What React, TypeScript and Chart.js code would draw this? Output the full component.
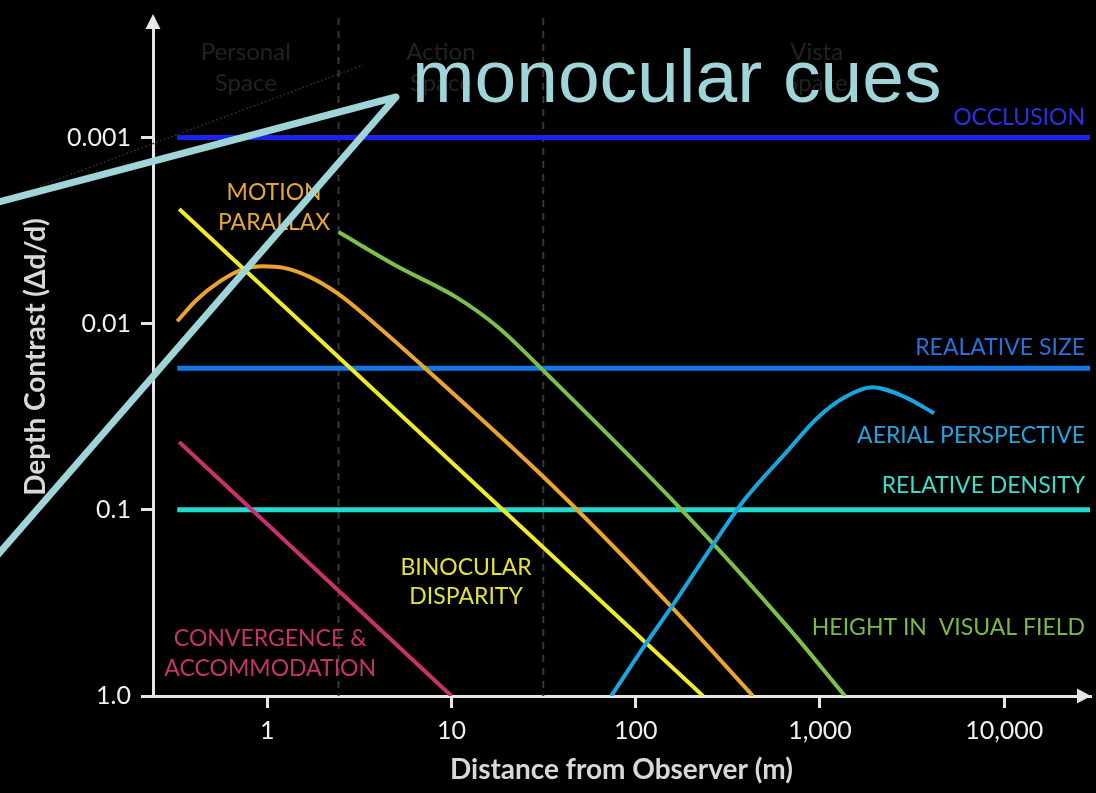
import { useEffect, useRef } from "react";
import { Chart, registerables } from "chart.js";

Chart.register(...registerables);

// ---------- axis data ----------
const xTickValues = [1, 10, 100, 1000, 10000];
const xTickLabels = ["1", "10", "100", "1,000", "10,000"];
const yTickValues = [0.001, 0.01, 0.1, 1];
const yTickLabels = ["0.001", "0.01", "0.1", "1.0"];
const xRange = [0.24, 29200];
const yRange = [0.000228, 1];

// ---------- series data ----------
const binocularX = [0.333, 232];
const binocularY = [0.00242, 1.0];

const motionX = [0.325, 0.412, 0.556, 0.741, 0.939, 1.25, 1.71, 2.4, 3.86, 7.2, 34.3, 150, 433];
const motionY = [0.0097, 0.00748, 0.00591, 0.00509, 0.00491, 0.00503, 0.00562, 0.00686, 0.01006, 0.01735, 0.072, 0.318, 1.0];

const heightX = [2.44, 5.1, 10.6, 17.9, 34.3, 178.6, 671, 1368];
const heightY = [0.00322, 0.00493, 0.0072, 0.01044, 0.0194, 0.1006, 0.428, 1.0];

const convergenceX = [0.333, 10];
const convergenceY = [0.0432, 1.0];

const aerialX = [73.6, 113.9, 151.8, 266, 387, 671, 964, 1368, 1917, 2895, 4160];
const aerialY = [1.0, 0.522, 0.347, 0.1514, 0.0889, 0.0479, 0.0322, 0.0248, 0.02195, 0.0248, 0.0303];

const constantCueStartX = 0.325;
const occlusionY = 0.001;
const relativeSizeY = 0.01735;
const relativeDensityY = 0.1;

const zoneBoundaries = [2.44, 31.5];
const zoneNames = [
  ["Personal", "Space"],
  ["Action", "Space"],
  ["Vista", "Space"],
];

// ---------- labels (text + anchor in data space) ----------
const cueLabels = [
  { lines: ["OCCLUSION"], x: 27440, y: 0.000786, align: "right", color: "#2a30e6" },
  { lines: ["REALATIVE SIZE"], x: 27440, y: 0.01337, align: "right", color: "#2a70da" },
  { lines: ["AERIAL PERSPECTIVE"], x: 27440, y: 0.03977, align: "right", color: "#28a2dc" },
  { lines: ["RELATIVE DENSITY"], x: 27440, y: 0.07383, align: "right", color: "#3ddccb" },
  { lines: ["HEIGHT IN  VISUAL FIELD"], x: 27440, y: 0.4282, align: "right", color: "#79b94a" },
  { lines: ["BINOCULAR", "DISPARITY"], x: 12.0, y: 0.2438, align: "center", color: "#e2e23a" },
  { lines: ["MOTION", "PARALLAX"], x: 1.09, y: 0.002378, align: "center", color: "#e6a63a" },
  { lines: ["CONVERGENCE &", "ACCOMMODATION"], x: 1.038, y: 0.5908, align: "center", color: "#c5336f" },
];

const overlayText = "monocular cues";

const FONT = "Lato, 'Noto Sans', sans-serif";
const AXIS_COLOR = "#e6e6e6";
const OVERLAY_COLOR = "#9fd4d9";

const pts = (xs: number[], ys: number[]) => xs.map((x, i) => ({ x, y: ys[i] }));

const curve = (label: string, xs: number[], ys: number[], color: string, smooth: boolean) => ({
  label,
  data: pts(xs, ys),
  borderColor: color,
  borderWidth: 4,
  pointRadius: 0,
  fill: false,
  tension: 0,
  cubicInterpolationMode: smooth ? "monotone" : "default",
});

const hline = (label: string, y: number, color: string) => ({
  label,
  data: pts([constantCueStartX, xRange[1]], [y, y]),
  borderColor: color,
  borderWidth: 5,
  pointRadius: 0,
  fill: false,
  tension: 0,
});

const vline = (label: string, x: number) => ({
  label,
  data: pts([x, x], [yRange[0], yRange[1]]),
  borderColor: "#383838",
  borderWidth: 2,
  borderDash: [7, 6],
  pointRadius: 0,
  fill: false,
  tension: 0,
});

const decorPlugin = {
  id: "decor",
  beforeDatasetsDraw(chart: any) {
    const { ctx, chartArea, scales } = chart;
    const xs = scales.x;
    const bounds = [chartArea.left, ...zoneBoundaries.map((b) => xs.getPixelForValue(b)), chartArea.right];
    ctx.save();
    ctx.fillStyle = "#222222";
    ctx.font = `24px ${FONT}`;
    ctx.textAlign = "center";
    ctx.textBaseline = "middle";
    zoneNames.forEach((lines, i) => {
      const cx = (bounds[i] + bounds[i + 1]) / 2;
      lines.forEach((t, j) => ctx.fillText(t, cx, chartArea.top + 34 + j * 31));
    });
    ctx.restore();
  },
  afterDatasetsDraw(chart: any) {
    const { ctx, scales } = chart;
    ctx.save();
    ctx.font = `23px ${FONT}`;
    ctx.textBaseline = "middle";
    cueLabels.forEach((l) => {
      const px = scales.x.getPixelForValue(l.x);
      const py = scales.y.getPixelForValue(l.y);
      ctx.fillStyle = l.color;
      ctx.textAlign = l.align;
      const n = l.lines.length;
      l.lines.forEach((t, j) => ctx.fillText(t, px, py + (j - (n - 1) / 2) * 29.5));
    });
    ctx.restore();
  },
  afterDraw(chart: any) {
    const { ctx, chartArea } = chart;
    ctx.save();
    // axis arrow heads
    ctx.fillStyle = AXIS_COLOR;
    ctx.beginPath();
    ctx.moveTo(chartArea.left, 14);
    ctx.lineTo(chartArea.left - 7.5, 29);
    ctx.lineTo(chartArea.left + 7.5, 29);
    ctx.closePath();
    ctx.fill();
    ctx.beginPath();
    ctx.moveTo(chartArea.right + 1, chartArea.bottom);
    ctx.lineTo(chartArea.right - 13, chartArea.bottom - 7.5);
    ctx.lineTo(chartArea.right - 13, chartArea.bottom + 7.5);
    ctx.closePath();
    ctx.fill();

    // faint dotted guide
    ctx.strokeStyle = "#2c2c2c";
    ctx.lineWidth = 1.5;
    ctx.setLineDash([2, 2]);
    ctx.beginPath();
    ctx.moveTo(40, 186);
    ctx.lineTo(363, 65);
    ctx.stroke();
    ctx.setLineDash([]);

    // overlay pointer + text
    ctx.strokeStyle = OVERLAY_COLOR;
    ctx.lineWidth = 7;
    ctx.lineJoin = "round";
    ctx.lineCap = "butt";
    ctx.beginPath();
    ctx.moveTo(-5, 203);
    ctx.lineTo(396, 97);
    ctx.lineTo(-5, 558);
    ctx.stroke();
    ctx.fillStyle = OVERLAY_COLOR;
    ctx.font = "75px 'Liberation Sans', Arial, sans-serif";
    ctx.textAlign = "left";
    ctx.textBaseline = "alphabetic";
    ctx.fillText(overlayText, 412, 102);
    ctx.restore();
  },
};

const bgPlugin = {
  id: "bg",
  beforeDraw(chart: any) {
    const { ctx, width, height } = chart;
    ctx.save();
    ctx.fillStyle = "#000";
    ctx.fillRect(0, 0, width, height);
    ctx.restore();
  },
};

export default function App() {
  const ref = useRef<HTMLCanvasElement>(null);
  useEffect(() => {
    const canvas = ref.current;
    if (!canvas) return;
    const chart = new Chart(canvas, {
      type: "line",
      data: {
        datasets: [
          curve("Aerial perspective", aerialX, aerialY, "#17a6e0", true),
          curve("Binocular disparity", binocularX, binocularY, "#ecec2c", false),
          curve("Motion parallax", motionX, motionY, "#eba430", true),
          curve("Height in visual field", heightX, heightY, "#7cc04a", true),
          curve("Convergence & accommodation", convergenceX, convergenceY, "#c8306e", false),
          hline("Occlusion", occlusionY, "#1c22f0"),
          hline("Relative size", relativeSizeY, "#1279e6"),
          hline("Relative density", relativeDensityY, "#22dcd0"),
          vline("Personal/Action", zoneBoundaries[0]),
          vline("Action/Vista", zoneBoundaries[1]),
        ] as any,
      },
      options: {
        responsive: false,
        animation: false,
        events: [],
        layout: { padding: { top: 18, right: 6, bottom: 0, left: 0 } },
        plugins: { legend: { display: false }, tooltip: { enabled: false } },
        scales: {
          x: {
            type: "logarithmic",
            position: "bottom",
            min: xRange[0],
            max: xRange[1],
            afterBuildTicks: (s: any) => {
              s.ticks = xTickValues.map((v) => ({ value: v }));
            },
            afterFit: (s: any) => {
              s.height = 97;
              s.paddingLeft = 0;
              s.paddingRight = 0;
            },
            ticks: {
              callback: (_v: any, i: number) => xTickLabels[i],
              color: "#f0f0f0",
              font: { size: 25, family: FONT },
              padding: 8,
              autoSkip: false,
              maxRotation: 0,
            },
            grid: {
              drawOnChartArea: false,
              drawTicks: true,
              tickLength: 12,
              tickWidth: 3,
              tickColor: AXIS_COLOR,
              color: AXIS_COLOR,
              lineWidth: 3,
            },
            border: { display: true, color: AXIS_COLOR, width: 3 },
            title: {
              display: true,
              text: "Distance from Observer (m)",
              color: "#d8d8d8",
              font: { size: 28, weight: "bold", family: FONT },
              padding: { top: 0, bottom: 6 },
            },
          },
          y: {
            type: "logarithmic",
            position: "left",
            reverse: true,
            min: yRange[0],
            max: yRange[1],
            afterBuildTicks: (s: any) => {
              s.ticks = yTickValues.map((v) => ({ value: v }));
            },
            afterFit: (s: any) => {
              s.width = 153;
              s.paddingTop = 0;
              s.paddingBottom = 0;
            },
            ticks: {
              callback: (_v: any, i: number) => yTickLabels[i],
              color: "#f0f0f0",
              font: { size: 25, family: FONT },
              padding: 10,
              autoSkip: false,
            },
            grid: {
              drawOnChartArea: false,
              drawTicks: true,
              tickLength: 12,
              tickWidth: 3,
              tickColor: AXIS_COLOR,
              color: AXIS_COLOR,
              lineWidth: 3,
            },
            border: { display: true, color: AXIS_COLOR, width: 3 },
            title: {
              display: true,
              text: "Depth Contrast (Δd/d)",
              color: "#d8d8d8",
              font: { size: 28, weight: "bold", family: FONT },
              padding: { top: 19, bottom: 0 },
            },
          },
        },
      },
      plugins: [bgPlugin, decorPlugin],
    } as any);
    return () => chart.destroy();
  }, []);

  return (
    <div style={{ position: "fixed", left: 0, top: 0, width: 1096, height: 793, background: "#000" }}>
      <canvas ref={ref} width={1096} height={793} style={{ display: "block", width: 1096, height: 793 }} />
    </div>
  );
}
